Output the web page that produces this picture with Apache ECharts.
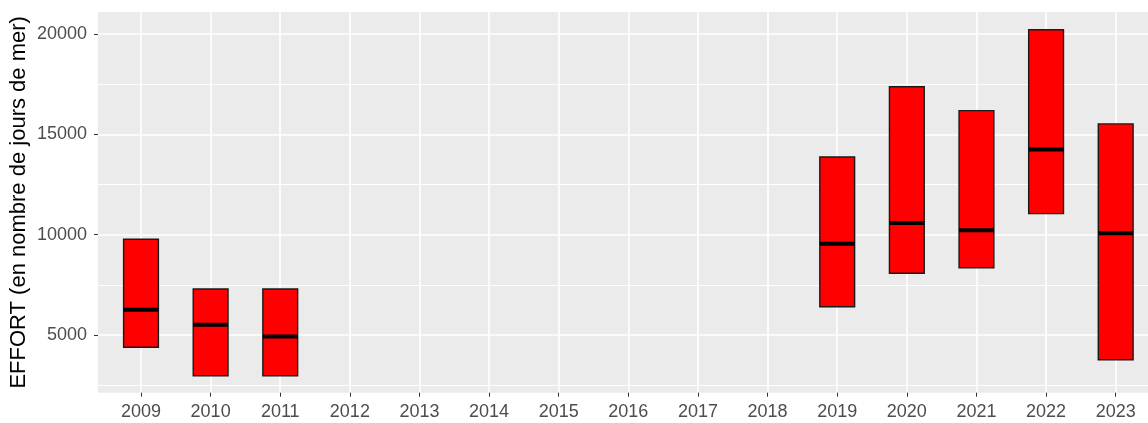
<!DOCTYPE html>
<html>
<head>
<meta charset="utf-8">
<script src="https://cdn.jsdelivr.net/npm/echarts@6/dist/echarts.min.js"></script>
<style>
  html, body { margin: 0; padding: 0; background: #fff; }
  #chart { width: 1148px; height: 423px; }
</style>
</head>
<body>
<div id="chart"></div>
<script>
// tous les ans affichés sur l'axe
const years = ['2009', '2010', '2011', '2012', '2013', '2014', '2015', '2016',
  '2017', '2018', '2019', '2020', '2021', '2022', '2023']
// années avec données
const dataYears = ['2009', '2010', '2011', '2019', '2020', '2021', '2022', '2023']
const lowValues = [4390, 2970, 2970, 6410, 8080, 8350, 11050, 3770]
const highValues = [9770, 7290, 7290, 13870, 17370, 16180, 20210, 15520]
const medianValues = [6260, 5510, 4920, 9550, 10580, 10220, 14250, 10070]
// graduations
const majorTicks = [5000, 10000, 15000, 20000]
const minorTicks = [2500, 7500, 12500, 17500]

const yMin = 2125
const yMax = 21096
const font = "'Liberation Sans', Arial, sans-serif"

const boxData = dataYears.map((y, i) => [y, lowValues[i], highValues[i], medianValues[i]])

const gridLines = majorTicks.map(v => ({ yAxis: v, lineStyle: { width: 1.6 } }))
  .concat(minorTicks.map(v => ({ yAxis: v, lineStyle: { width: 1 } })))

const chart = echarts.init(document.getElementById('chart'))
chart.setOption({
  animation: false,
  grid: [
    // panneau gris (fond + lignes horizontales)
    { left: 98, top: 12, width: 1100, height: 380.7, show: true, outerBoundsMode: 'none',
      containLabel: false, backgroundColor: '#EBEBEB', borderWidth: 0 },
    // zone des données
    { left: 141, top: 12, width: 974.7, height: 380.7, outerBoundsMode: 'none',
      containLabel: false }
  ],
  xAxis: [
    { gridIndex: 0, type: 'value', min: 0, max: 1, show: false },
    {
      gridIndex: 1,
      type: 'category',
      data: years,
      boundaryGap: false,
      axisLine: { show: false },
      axisTick: { show: true, length: 4, lineStyle: { color: '#333333', width: 1 } },
      axisLabel: { color: '#4D4D4D', fontSize: 18, fontFamily: font, margin: 10 },
      splitLine: { show: true, lineStyle: { color: '#FFFFFF', width: 1.6 } }
    }
  ],
  yAxis: [
    {
      gridIndex: 0,
      type: 'value',
      min: yMin,
      max: yMax,
      name: 'EFFORT (en nombre de jours de mer)',
      nameLocation: 'middle',
      nameRotate: 90,
      nameGap: 68,
      nameMoveOverlap: false,
      nameTextStyle: { color: '#000000', fontSize: 22, fontFamily: font },
      axisLine: { show: false },
      axisTick: { show: true, length: 4, customValues: majorTicks,
        lineStyle: { color: '#333333', width: 1 } },
      axisLabel: { color: '#4D4D4D', fontSize: 18, fontFamily: font, margin: 11,
        customValues: majorTicks, formatter: v => String(v) },
      splitLine: { show: false }
    },
    { gridIndex: 1, type: 'value', min: yMin, max: yMax, show: false, splitLine: { show: false } }
  ],
  series: [
    {
      type: 'line',
      xAxisIndex: 0,
      yAxisIndex: 0,
      data: [],
      z: 1,
      silent: true,
      markLine: {
        silent: true,
        symbol: 'none',
        label: { show: false },
        lineStyle: { color: '#FFFFFF', type: 'solid' },
        data: gridLines
      }
    },
    {
      type: 'custom',
      xAxisIndex: 1,
      yAxisIndex: 1,
      z: 5,
      data: boxData,
      encode: { x: 0, y: [1, 2, 3] },
      renderItem: function (params, api) {
        const x = api.value(0)
        const low = api.coord([x, api.value(1)])
        const high = api.coord([x, api.value(2)])
        const med = api.coord([x, api.value(3)])
        const w = api.size([1, 0])[0] * 0.5
        return {
          type: 'group',
          children: [
            {
              type: 'rect',
              shape: { x: low[0] - w / 2, y: high[1], width: w, height: low[1] - high[1] },
              style: { fill: '#FF0000', stroke: '#1A1A1A', lineWidth: 1.4 }
            },
            {
              type: 'line',
              shape: { x1: med[0] - w / 2, y1: med[1], x2: med[0] + w / 2, y2: med[1] },
              style: { stroke: '#000000', lineWidth: 4 }
            }
          ]
        }
      }
    }
  ]
})
</script>
</body>
</html>
